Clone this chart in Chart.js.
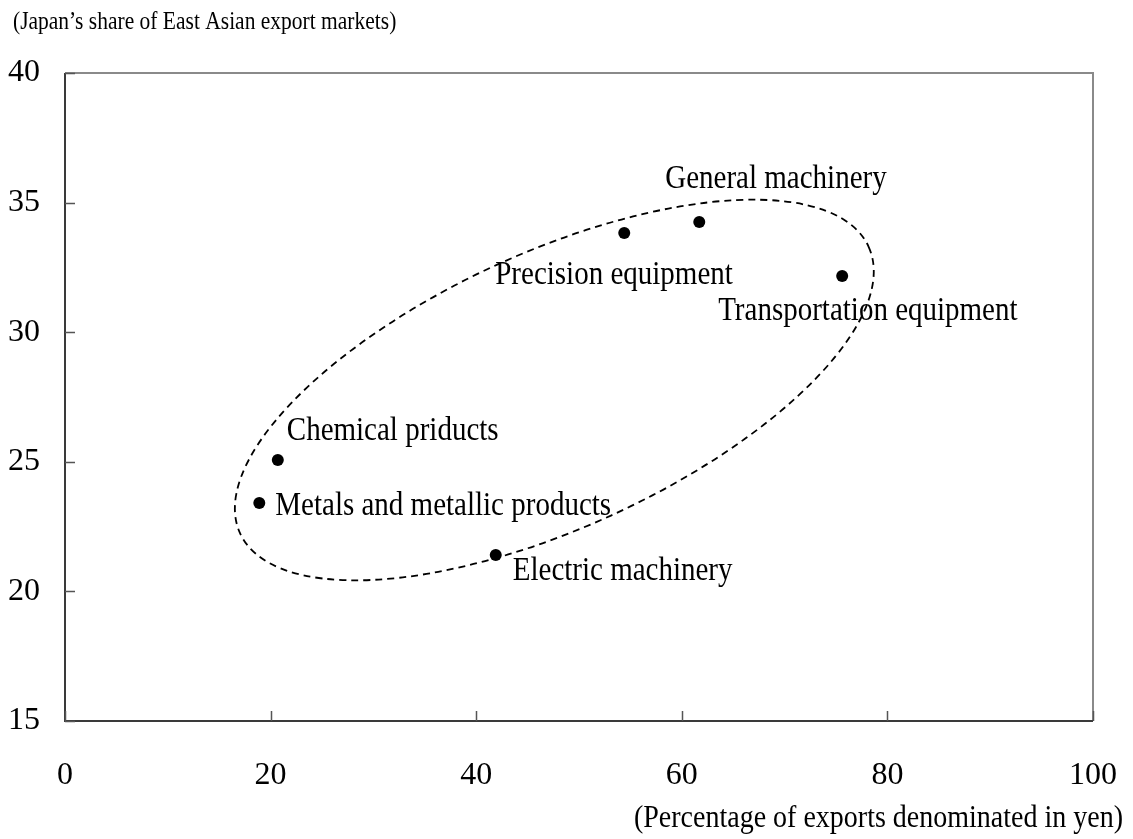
<!DOCTYPE html>
<html>
<head>
<meta charset="utf-8">
<script src="https://cdn.jsdelivr.net/npm/chart.js@4/dist/chart.umd.min.js"></script>
<style>
  body { margin: 0; background: #fff; }
  #wrap { width: 1133px; height: 839px; }
</style>
</head>
<body>
<div id="wrap"><canvas id="scatterChart" width="1133" height="839"></canvas></div>
<script>
// Data
const industries = ['General machinery', 'Precision equipment', 'Transportation equipment',
                    'Chemical priducts', 'Metals and metallic products', 'Electric machinery'];
const yenShare = [61.7, 54.4, 75.6, 20.7, 18.9, 41.9];      // x: % of exports in yen
const marketShare = [34.25, 33.83, 32.17, 25.07, 23.41, 21.4]; // y: Japan's share
const xTicks = [0, 20, 40, 60, 80, 100];
const yTicks = [15, 20, 25, 30, 35, 40];

const yTitle = '(Japan\u2019s share of East Asian export markets)';
const xTitle = '(Percentage of exports denominated in yen)';

// label placement relative to each dot (px)
const labelOffsets = [[-34, -43], [-129, 42], [-124, 35], [9, -29], [16, 3], [17, 16]];

const SERIF = '"Liberation Serif", "Times New Roman", serif';
const STRETCH = 1.15;

function stretchedText(ctx, text, x, y, size, align) {
    ctx.save();
    ctx.font = size + 'px ' + SERIF;
    ctx.fillStyle = '#000';
    ctx.textAlign = align || 'left';
    ctx.textBaseline = 'middle';
    ctx.translate(x, y);
    ctx.scale(1, STRETCH);
    ctx.fillText(text, 0, 0);
    ctx.restore();
}

// frame, inside tick marks and the dashed ellipse
const framePlugin = {
    id: 'frame',
    beforeDatasetsDraw(chart) {
        const { ctx, chartArea: a, scales: { x, y } } = chart;
        ctx.save();
        // top / right border in grey
        ctx.strokeStyle = '#8a8a8a';
        ctx.lineWidth = 2;
        ctx.beginPath();
        ctx.moveTo(a.left, a.top);
        ctx.lineTo(a.right, a.top);
        ctx.lineTo(a.right, a.bottom);
        ctx.stroke();
        // left / bottom axes
        ctx.strokeStyle = '#3a3a3a';
        ctx.beginPath();
        ctx.moveTo(a.left, a.top);
        ctx.lineTo(a.left, a.bottom);
        ctx.lineTo(a.right, a.bottom);
        ctx.stroke();
        // ticks pointing inward
        ctx.lineWidth = 1.5;
        ctx.strokeStyle = '#555';
        ctx.beginPath();
        yTicks.forEach(v => {
            const py = Math.round(y.getPixelForValue(v)) + 0.5;
            ctx.moveTo(a.left, py);
            ctx.lineTo(a.left + 10, py);
        });
        xTicks.forEach(v => {
            const px = Math.round(x.getPixelForValue(v)) + 0.5;
            ctx.moveTo(px, a.bottom);
            ctx.lineTo(px, a.bottom - 10);
        });
        ctx.stroke();

        // dashed ellipse around the group
        const cx = x.getPixelForValue(47.6);
        const cy = y.getPixelForValue(27.77);
        const unit = x.getPixelForValue(1) - x.getPixelForValue(0);
        ctx.strokeStyle = '#000';
        ctx.lineWidth = 1.8;
        ctx.setLineDash([7, 5]);
        ctx.beginPath();
        ctx.ellipse(cx, cy, 33.6 * unit, 13.4 * unit, -24.5 * Math.PI / 180, 0, Math.PI * 2);
        ctx.stroke();
        ctx.restore();
    },
    afterDraw(chart) {
        const { ctx, scales: { x, y } } = chart;
        industries.forEach((name, i) => {
            const px = x.getPixelForValue(yenShare[i]);
            const py = y.getPixelForValue(marketShare[i]);
            stretchedText(ctx, name, px + labelOffsets[i][0], py + labelOffsets[i][1], 29);
        });
        stretchedText(ctx, yTitle, 13, 23, 21.5);
        stretchedText(ctx, xTitle, 1123, 819, 28, 'right');
    }
};

function initChart() {
    const ctx = document.getElementById('scatterChart');
    new Chart(ctx, {
        type: 'scatter',
        data: {
            datasets: [{
                data: yenShare.map((v, i) => ({ x: v, y: marketShare[i] })),
                backgroundColor: '#000',
                borderWidth: 0,
                pointRadius: 6,
                pointHoverRadius: 6
            }]
        },
        options: {
            responsive: false,
            animation: false,
            layout: { padding: { left: 0, right: 40, top: 73, bottom: 0 } },
            plugins: {
                legend: { display: false },
                tooltip: { enabled: false }
            },
            scales: {
                x: {
                    min: 0,
                    max: 100,
                    afterFit: s => { s.height = 118; s.paddingLeft = 0; s.paddingRight = 0; },
                    afterBuildTicks: s => { s.ticks = xTicks.map(v => ({ value: v })); },
                    grid: { display: false, drawTicks: false },
                    border: { display: false },
                    ticks: { padding: 35, color: '#000', font: { family: SERIF, size: 32 } }
                },
                y: {
                    min: 15,
                    max: 40,
                    afterFit: s => { s.width = 65; s.paddingTop = 0; s.paddingBottom = 0; },
                    afterBuildTicks: s => { s.ticks = yTicks.map(v => ({ value: v })); },
                    grid: { display: false, drawTicks: false },
                    border: { display: false },
                    ticks: { padding: 25, color: '#000', font: { family: SERIF, size: 32 } }
                }
            }
        },
        plugins: [framePlugin]
    });
}

document.addEventListener('DOMContentLoaded', initChart);
</script>
</body>
</html>
